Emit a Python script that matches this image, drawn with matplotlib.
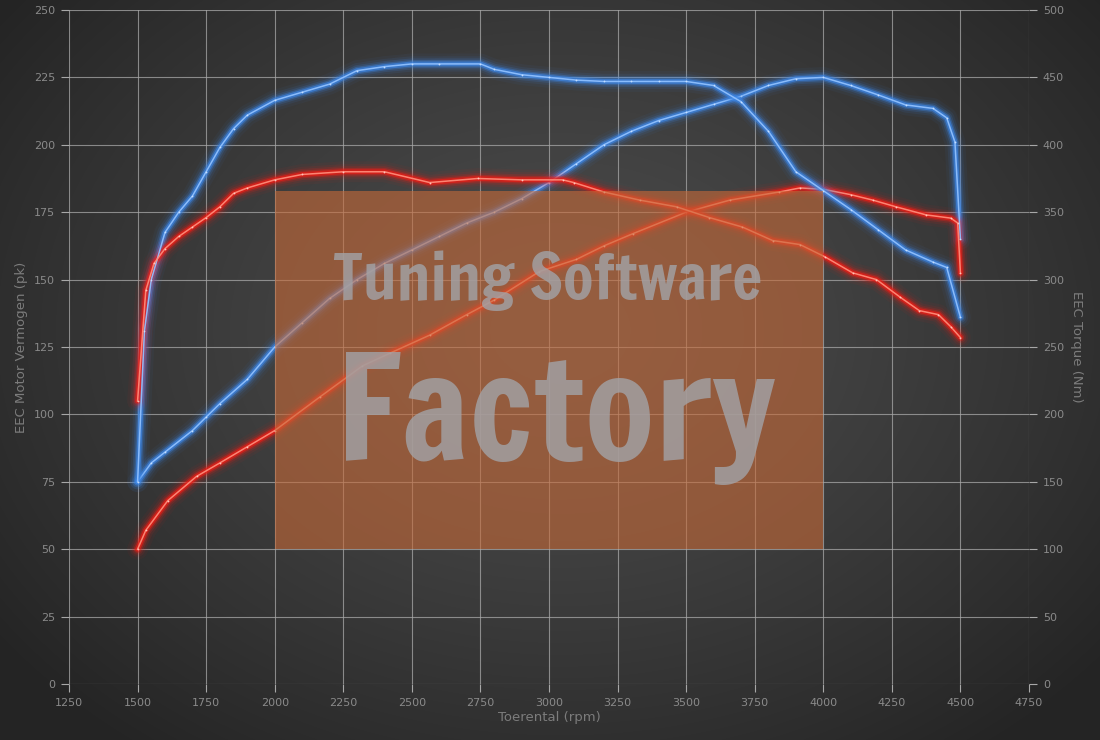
import numpy as np
import matplotlib
matplotlib.use("Agg")
import matplotlib.pyplot as plt
from matplotlib.patches import Rectangle
import logging
logging.getLogger("matplotlib.font_manager").setLevel(logging.ERROR)

# ---------------- data ----------------
rpm_blue_power = [1500, 1550, 1600, 1700, 1750, 1800, 1900, 2000, 2100, 2200, 2300, 2400,
                  2500, 2600, 2700, 2800, 2900, 3000, 3100, 3200, 3300, 3400, 3500, 3600,
                  3700, 3800, 3900, 4000, 4100, 4200, 4300, 4400, 4450, 4480, 4500]
blue_power = [75, 82, 86, 94, 99, 104, 113, 125, 134, 143, 150, 156,
              161, 166, 171, 175, 180, 186, 193, 200, 205, 209, 212, 215,
              218, 222, 224.5, 225, 222, 218.5, 214.8, 213.5, 210, 201, 165]

rpm_blue_torque = [1500, 1525, 1550, 1600, 1650, 1700, 1750, 1800, 1850, 1900, 2000, 2100,
                   2200, 2300, 2400, 2500, 2600, 2750, 2800, 2900, 3000, 3100, 3200, 3300,
                   3400, 3500, 3600, 3700, 3800, 3900, 4000, 4100, 4200, 4300, 4400, 4450, 4500]
blue_torque = [150, 262, 300, 335, 350, 362, 380, 398, 412, 422, 433, 439,
               445, 455, 458, 460, 460, 460, 456, 452, 450, 448, 447, 447,
               447, 447, 444, 432, 410, 380, 366, 352, 337, 322, 313, 309, 272]

rpm_red_power = [1500, 1530, 1610, 1715, 1800, 1900, 2000, 2165, 2320, 2420, 2565, 2700,
                 2800, 2965, 3100, 3200, 3305, 3500, 3660, 3840, 3915, 4000, 4100, 4180,
                 4265, 4375, 4465, 4490, 4500]
red_power = [50, 57, 68, 77, 82, 88, 94, 106.5, 118, 122.7, 129.4, 137,
             142.4, 153, 157.5, 162.5, 167, 175, 179.5, 182.5, 184, 183.5, 181.5, 179.5,
             177, 174, 172.8, 171, 152.4]

rpm_red_torque = [1500, 1530, 1560, 1600, 1650, 1700, 1750, 1800, 1850, 1900, 2000, 2100,
                  2250, 2400, 2565, 2740, 2900, 3050, 3090, 3200, 3330, 3465, 3585, 3705,
                  3815, 3915, 4005, 4107, 4194, 4280, 4350, 4420, 4465, 4500]
red_torque = [210, 292, 312, 323, 332, 339, 346, 354, 364, 368, 374, 378,
              380, 380, 372, 375, 374, 374, 372, 365, 359, 354, 346, 339,
              329, 326, 317, 305, 300, 287, 277, 274, 265, 257]

x_ticks = list(range(1250, 4751, 250))
left_ticks = list(range(0, 251, 25))
right_ticks = list(range(0, 501, 50))

# ---------------- figure ----------------
W, H, DPI = 1100, 740, 100
fig = plt.figure(figsize=(W / DPI, H / DPI), dpi=DPI)

# radial gradient background
bg_ax = fig.add_axes([0, 0, 1, 1], zorder=-10)
yy, xx = np.mgrid[0:H, 0:W]
r = np.sqrt(((xx - 560) / 620.0) ** 2 + ((yy - 330) / 470.0) ** 2)
val = np.clip(76 - 34 * r ** 1.3, 36, 80) / 255.0
bg = np.dstack([val, val, val])
bg_ax.imshow(bg, aspect="auto", extent=[0, 1, 0, 1], origin="upper")
bg_ax.axis("off")

ax = fig.add_axes([69 / W, 1 - 684 / H, 960 / W, 674 / H])
ax.set_facecolor("none")
ax2 = ax.twinx()
ax2.set_facecolor("none")

ax.set_xlim(1250, 4750)
ax.set_ylim(0, 250)
ax2.set_ylim(0, 500)
ax.set_xticks(x_ticks)
ax.set_yticks(left_ticks)
ax2.set_yticks(right_ticks)

tick_col = "#8a8a8a"
grid_col = "#a8a8a8"
ax.grid(True, color=grid_col, linewidth=0.8, alpha=0.75)
for a in (ax, ax2):
    for s in a.spines.values():
        s.set_visible(False)
    a.tick_params(colors=grid_col, labelcolor=tick_col, labelsize=8, length=6, width=0.8)
ax.tick_params(axis="x", pad=4)
ax.tick_params(axis="y", pad=4)
ax2.tick_params(axis="y", pad=4)

lab_col = "#7c7c7c"
ax.set_xlabel("Toerental (rpm)", color=lab_col, fontsize=9.5, labelpad=2)
ax.set_ylabel("EEC Motor Vermogen (pk)", color=lab_col, fontsize=9.5, labelpad=4)
ax2.set_ylabel("EEC Torque (Nm)", color=lab_col, fontsize=9.5, rotation=-90, labelpad=14)


def glow_line(a, x, y, glow, core, dot):
    for lw, al in [(15, 0.05), (11, 0.09), (8, 0.16), (5.5, 0.32), (3.5, 0.65)]:
        a.plot(x, y, color=glow, lw=lw, alpha=al, solid_capstyle="round",
               solid_joinstyle="round", zorder=3)
    a.plot(x, y, color=core, lw=1.1, alpha=0.95, zorder=4,
           marker="o", markersize=1.3, markeredgewidth=0, markerfacecolor=dot)


blue_glow, blue_core = "#3c86e6", "#8fc0ff"
red_glow, red_core = "#f01c14", "#ff8a78"

glow_line(ax, rpm_blue_power, blue_power, blue_glow, blue_core, "#c8e0ff")
glow_line(ax, rpm_red_power, red_power, red_glow, red_core, "#ffc8c0")
glow_line(ax2, rpm_blue_torque, blue_torque, blue_glow, blue_core, "#c8e0ff")
glow_line(ax2, rpm_red_torque, red_torque, red_glow, red_core, "#ffc8c0")

# watermark (semi-transparent, over the lines)
ax2.add_patch(Rectangle((2000, 100), 2000, 266, facecolor="#c86a38", edgecolor="none",
                        alpha=0.6, zorder=10))
wm_font = ["Francois One", "Fjalla One", "Anton", "DejaVu Sans"]
t1 = ax2.text(2995, 285, "Tuning Software", ha="center", va="baseline", color="#a2a2a6",
              fontsize=36, family=wm_font, alpha=0.82, zorder=11)
t2 = ax2.text(3025, 166, "Factory", ha="center", va="baseline", color="#a2a2a6",
              fontsize=90, family=wm_font, alpha=0.82, zorder=11)

# fit watermark text widths
fig.canvas.draw()
rend = fig.canvas.get_renderer()
for t, target_w in [(t1, 428), (t2, 440)]:
    bb = t.get_window_extent(rend)
    t.set_fontsize(t.get_fontsize() * target_w / bb.width)

fig.savefig("out.png", dpi=DPI)
